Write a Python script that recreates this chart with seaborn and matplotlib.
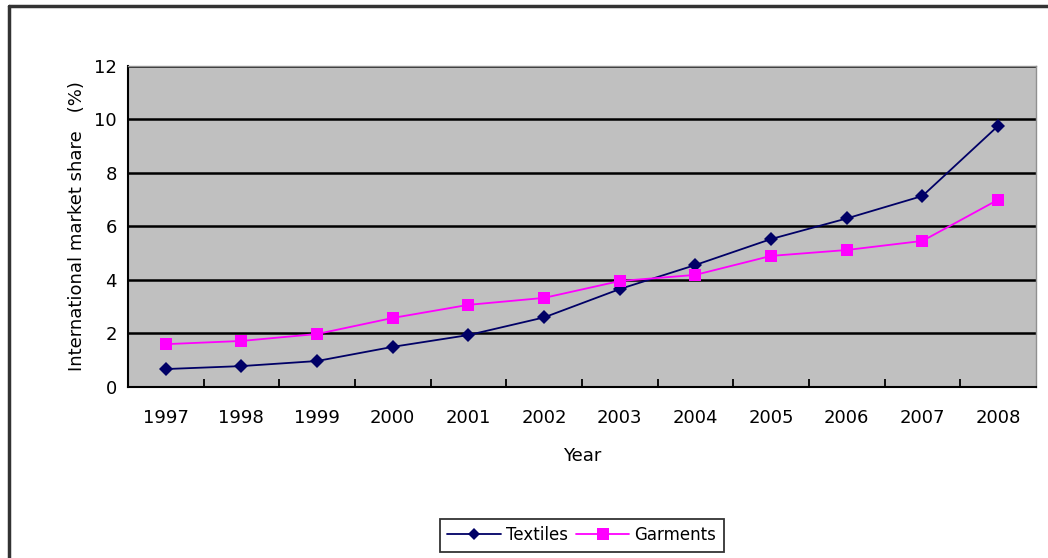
import matplotlib
matplotlib.use("Agg")
import matplotlib.pyplot as plt
import seaborn as sns
import pandas as pd
from matplotlib.lines import Line2D

years = [1997, 1998, 1999, 2000, 2001, 2002, 2003, 2004, 2005, 2006, 2007, 2008]
textiles = [0.67, 0.78, 0.97, 1.5, 1.94, 2.6, 3.66, 4.56, 5.53, 6.3, 7.14, 9.76]
garments = [1.6, 1.72, 1.98, 2.58, 3.07, 3.33, 3.96, 4.19, 4.9, 5.12, 5.46, 7.0]

df = pd.DataFrame({"Year": years + years,
                   "share": textiles + garments,
                   "series": ["Textiles"] * len(years) + ["Garments"] * len(years)})

sns.set_style("white")
plt.rcParams['font.family'] = ['DejaVu Sans', 'Noto Sans CJK SC']
plt.rcParams['text.color'] = 'black'
plt.rcParams['axes.labelcolor'] = 'black'
plt.rcParams['xtick.color'] = 'black'
plt.rcParams['ytick.color'] = 'black'

fig = plt.figure(figsize=(10.48, 5.58), dpi=100)
ax = fig.add_axes([0.122, 0.3065, 0.8665, 0.5753])
ax.set_facecolor("#c0c0c0")

sns.lineplot(data=df, x="Year", y="share", hue="series", style="series",
             palette={"Textiles": "#000066", "Garments": "#ff00ff"},
             markers={"Textiles": "D", "Garments": "s"},
             dashes=False, markersize=8, linewidth=1.3,
             markeredgewidth=0, ax=ax, legend=False)
ax.lines[0].set_markersize(7)

ax.set_xlim(1996.5, 2008.5)
ax.set_ylim(0, 12)
ax.set_yticks(range(0, 13, 2))
ax.set_xticks(years)
ax.set_xticks([y + 0.5 for y in years[:-1]], minor=True)
ax.tick_params(axis="x", which="major", length=0, pad=16, labelsize=13)
ax.tick_params(axis="x", which="minor", bottom=True, direction="in", length=6,
               width=1.3, color="black")
ax.tick_params(axis="y", length=0, pad=8, labelsize=13)
ax.yaxis.grid(True, color="black", linewidth=1.8)
ax.set_axisbelow(True)

for s in ["left", "bottom"]:
    ax.spines[s].set_color("black")
    ax.spines[s].set_linewidth(1.5)
for s in ["top", "right"]:
    ax.spines[s].set_color("#909090")
    ax.spines[s].set_linewidth(1.0)

ax.set_xlabel("Year", fontsize=13, labelpad=14)
ax.set_ylabel("International market share\u3000(%)", fontsize=13, labelpad=6,
              family=['DejaVu Sans', 'Noto Sans CJK SC'])

h1, = ax.plot([], [], color="#000066", marker="D", markersize=6, linewidth=1.3, markeredgewidth=0)
h2, = ax.plot([], [], color="#ff00ff", marker="s", markersize=9, linewidth=1.3, markeredgewidth=0)
leg = fig.legend([h1, h2], ["Textiles", "Garments"], loc="center",
                 bbox_to_anchor=(0.555, 0.041), ncol=2, frameon=True, fancybox=False,
                 fontsize=12, handlelength=3.2, columnspacing=0.5, handletextpad=0.3,
                 borderpad=0.45)
leg.get_frame().set_edgecolor("black")
leg.get_frame().set_linewidth(1.3)

# outer frame (only top and left edges are visible in the original crop)
fig.add_artist(Line2D([0.009, 1.0], [0.989, 0.989], transform=fig.transFigure,
                      color="#333333", linewidth=2.5))
fig.add_artist(Line2D([0.009, 0.009], [0.0, 0.989], transform=fig.transFigure,
                      color="#333333", linewidth=2.5))

fig.savefig("out.png", dpi=100)
